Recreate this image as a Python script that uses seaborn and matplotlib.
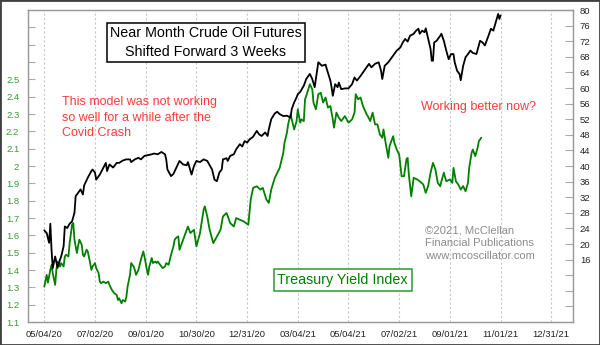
import matplotlib
matplotlib.use("Agg")
import matplotlib.pyplot as plt
from matplotlib.patches import Rectangle
import seaborn as sns
import pandas as pd

# ---- data: trading-day index since 05/04/20 ----
oil_day = [0, 2, 4, 5, 6, 7, 9, 11, 13, 14, 16, 17, 19, 21, 23, 25, 26, 28, 30, 32,
           33, 36, 39, 40, 42, 43, 46, 49, 51, 52, 54, 57, 60, 62, 65, 68, 71, 72, 75, 78,
           80, 83, 86, 89, 91, 94, 97, 100, 101, 102, 105, 107, 110, 112, 115, 118, 119, 122, 124, 126,
           129, 132, 135, 137, 139, 141, 143, 145, 147, 148, 151, 152, 154, 157, 159, 162, 164, 166, 168, 170,
           173, 176, 178, 180, 183, 185, 186, 188, 191, 193, 195, 198, 201, 204, 205, 207, 209, 210, 212, 215,
           217, 220, 222, 224, 227, 230, 233, 234, 237, 238, 239, 241, 243, 244, 246, 249, 252, 255, 257, 259,
           262, 264, 267, 269, 271, 274, 277, 279, 280, 282, 285, 288, 292, 295, 297, 299, 301, 303, 306, 308,
           310, 311, 313, 315, 316, 318, 320, 321, 322, 323, 325, 328, 329, 331, 333, 335, 337, 339, 340, 342,
           344, 345, 347, 349, 351, 353, 355, 358, 361, 363, 365, 368, 370, 372, 374, 376, 377, 378]
oil_price = [23.5, 22.8, 20.3, 25.2, 18.5, 13.8, 16.8, 13.9, 16.0, 16.8, 19.4, 24.5, 24.1, 25.2, 25.8, 28.0, 32.3, 33.1, 34.0, 32.7,
             35.0, 37.0, 38.7, 39.1, 38.3, 36.5, 37.8, 39.6, 40.8, 38.7, 40.4, 39.6, 40.8, 40.8, 41.4, 41.7, 41.7, 41.0, 41.7, 42.1,
             41.7, 42.6, 42.8, 43.0, 43.2, 43.0, 43.6, 43.0, 41.7, 39.1, 37.4, 38.0, 40.0, 41.3, 40.4, 40.2, 41.0, 37.8, 40.0, 41.3,
             41.0, 41.7, 41.3, 40.2, 39.1, 36.5, 36.1, 38.3, 39.1, 41.7, 42.0, 41.3, 42.6, 43.0, 44.3, 45.6, 45.0, 46.4, 46.0, 46.8,
             47.5, 49.0, 48.1, 47.7, 48.6, 47.7, 49.4, 52.0, 53.5, 53.9, 53.3, 52.8, 52.9, 52.4, 54.6, 56.3, 57.6, 58.4, 59.0, 60.6,
             62.3, 63.6, 62.3, 60.2, 66.6, 65.7, 66.0, 64.9, 61.9, 60.2, 58.0, 61.0, 60.2, 61.4, 59.7, 59.9, 59.9, 61.0, 62.7, 61.9,
             63.1, 64.0, 65.3, 66.2, 65.3, 66.2, 66.6, 64.4, 62.3, 65.7, 66.6, 67.9, 69.6, 70.4, 71.7, 72.6, 71.9, 73.4, 73.9, 74.7,
             75.2, 73.9, 74.7, 74.3, 75.3, 72.6, 70.0, 67.0, 67.0, 71.7, 72.1, 73.4, 73.9, 72.1, 69.6, 67.4, 68.7, 68.7, 66.6, 64.4,
             63.6, 62.0, 65.7, 67.9, 68.7, 69.6, 69.0, 68.7, 72.1, 71.7, 70.9, 73.4, 75.2, 74.7, 76.9, 79.0, 77.7, 78.6]

tyx_day = [0, 2, 3, 5, 6, 7, 9, 10, 11, 13, 14, 16, 17, 18, 20, 21, 23, 24, 25, 27,
           28, 29, 31, 32, 33, 35, 36, 38, 39, 40, 42, 43, 45, 46, 47, 49, 51, 53, 54, 56,
           58, 60, 61, 62, 64, 65, 67, 68, 69, 71, 72, 74, 75, 76, 78, 80, 82, 83, 85, 86,
           87, 89, 90, 92, 93, 94, 96, 98, 100, 101, 103, 104, 105, 107, 108, 109, 111, 112, 115, 119,
           121, 124, 126, 129, 132, 133, 135, 137, 140, 143, 146, 148, 151, 154, 157, 159, 162, 165, 169, 171,
           173, 176, 179, 181, 184, 186, 188, 191, 193, 195, 198, 199, 201, 202, 204, 205, 207, 209, 210, 212,
           213, 215, 216, 217, 220, 222, 223, 225, 227, 229, 231, 233, 235, 237, 239, 240, 242, 244, 246, 249,
           252, 255, 257, 258, 260, 262, 264, 267, 268, 270, 272, 274, 276, 278, 280, 281, 283, 285, 286, 289,
           290, 292, 294, 296, 298, 300, 301, 302, 304, 306, 309, 311, 314, 316, 318, 320, 322, 324, 326, 328,
           329, 331, 333, 336, 338, 339, 341, 343, 345, 347, 349, 351, 352, 354, 355, 357, 359, 360, 362]
tyx_value = [1.304, 1.372, 1.327, 1.401, 1.430, 1.382, 1.314, 1.401, 1.449, 1.420, 1.440, 1.420, 1.478, 1.488, 1.478, 1.555, 1.661, 1.671, 1.575, 1.498,
             1.536, 1.575, 1.546, 1.488, 1.478, 1.517, 1.507, 1.440, 1.401, 1.420, 1.440, 1.411, 1.382, 1.333, 1.324, 1.333, 1.324, 1.333, 1.314, 1.285,
             1.266, 1.256, 1.227, 1.237, 1.208, 1.227, 1.218, 1.246, 1.304, 1.372, 1.440, 1.420, 1.401, 1.372, 1.401, 1.459, 1.507, 1.478, 1.401, 1.372,
             1.420, 1.469, 1.440, 1.449, 1.440, 1.449, 1.430, 1.411, 1.420, 1.440, 1.430, 1.459, 1.488, 1.536, 1.575, 1.584, 1.594, 1.517, 1.575, 1.651,
             1.613, 1.632, 1.536, 1.613, 1.748, 1.767, 1.709, 1.632, 1.555, 1.594, 1.632, 1.709, 1.729, 1.671, 1.651, 1.700, 1.690, 1.681, 1.661, 1.806,
             1.874, 1.883, 1.864, 1.874, 1.806, 1.787, 1.864, 1.932, 1.961, 1.989, 2.076, 2.134, 2.192, 2.240, 2.298, 2.269, 2.211, 2.259, 2.327, 2.250,
             2.269, 2.259, 2.385, 2.404, 2.472, 2.443, 2.366, 2.327, 2.414, 2.423, 2.366, 2.395, 2.337, 2.346, 2.269, 2.221, 2.308, 2.279, 2.259, 2.288,
             2.250, 2.269, 2.308, 2.414, 2.385, 2.395, 2.346, 2.298, 2.288, 2.259, 2.308, 2.240, 2.240, 2.182, 2.163, 2.211, 2.124, 2.047, 2.115, 2.172,
             2.134, 2.095, 2.066, 1.941, 1.941, 2.038, 2.047, 1.951, 1.825, 1.932, 1.922, 1.912, 1.893, 1.845, 1.884, 1.961, 2.018, 1.980, 1.903, 1.883,
             1.912, 1.961, 1.912, 1.922, 1.903, 1.989, 1.912, 1.893, 1.864, 1.884, 1.854, 1.903, 1.989, 2.076, 2.095, 2.057, 2.105, 2.143, 2.163]

date_labels = ["05/04/20", "07/02/20", "09/01/20", "10/30/20", "12/31/20", "03/04/21",
               "05/04/21", "07/02/21", "09/01/21", "11/01/21", "12/31/21"]
date_ticks = [0, 42, 84, 126, 168, 210, 252, 294, 336, 378, 420]

left_ticks = [1.1, 1.2, 1.3, 1.4, 1.5, 1.6, 1.7, 1.8, 1.9, 2.0, 2.1, 2.2, 2.3, 2.4, 2.5, 2.6, 2.7, 2.8]
left_labels = ["1.1", "1.2", "1.3", "1.4", "1.5", "1.6", "1.7", "1.8", "1.9", "2", "2.1", "2.2",
               "2.3", "2.4", "2.5", "", "", ""]
right_ticks = [4, 8, 12, 16, 20, 24, 28, 32, 36, 40, 44, 48, 52, 56, 60, 64, 68, 72, 76, 80]
right_labels = ["", "", "", "16", "20", "24", "28", "32", "36", "40", "44", "48", "52", "56",
                "60", "64", "68", "72", "76", "80"]

oil_df = pd.DataFrame({"day": oil_day, "price": oil_price})
tyx_df = pd.DataFrame({"day": tyx_day, "value": tyx_value})

sns.set_theme(style="white")
plt.rcParams["font.family"] = ["Liberation Sans", "DejaVu Sans"]

GREEN = "#008000"
GREEN_TXT = "#3a9a3a"
RED = "#ff3b3b"
GRAY = "#8c8c8c"

fig = plt.figure(figsize=(6.0, 3.45), dpi=100)
fig.patch.set_facecolor("white")
ax = fig.add_axes([28 / 600, 23 / 345, 545 / 600, 312 / 345])
ax2 = ax.twinx()

sns.lineplot(data=tyx_df, x="day", y="value", ax=ax, color=GREEN, lw=1.3, estimator=None)
sns.lineplot(data=oil_df, x="day", y="price", ax=ax2, color="black", lw=1.3, estimator=None)

ax.set_xlim(-13.5, 438)
ax.set_ylim(1.1, 2.9)
ax2.set_ylim(0, 80)

ax.set_xticks(date_ticks)
ax.set_xticklabels(date_labels)
ax.set_yticks(left_ticks)
ax.set_yticklabels(left_labels)
ax2.set_yticks(right_ticks)
ax2.set_yticklabels(right_labels)

ax.set_xlabel("")
ax.set_ylabel("")
ax2.set_ylabel("")

ax.grid(False)
ax2.grid(False)
for t in date_ticks:
    ax.axvline(t, color="#c8c8c8", lw=0.8, ls=(0, (2, 2)), zorder=0)

ax.tick_params(axis="x", length=0, pad=5.5, labelsize=6.8, labelcolor="#222222")
ax.tick_params(axis="y", direction="in", length=5, width=0.8, color="#aaaaaa",
               pad=6.3, labelsize=6.8, labelcolor=GREEN_TXT)
ax2.tick_params(axis="y", direction="in", length=6, width=0.8, color="#aaaaaa",
                pad=5, labelsize=6.8, labelcolor="#222222")

for a in (ax, ax2):
    for s in a.spines.values():
        s.set_color("#9a9a9a")
        s.set_linewidth(0.9)

# annotations
ax.text(0.3266, 0.896, "Near Month Crude Oil Futures\nShifted Forward 3 Weeks",
        transform=ax.transAxes, ha="center", va="center", fontsize=10.3, color="black",
        linespacing=1.38, zorder=5,
        bbox=dict(boxstyle="square,pad=0.22", fc="white", ec="black", lw=1.1))
ax.text(0.0618, 0.655, "This model was not working\nso well for a while after the\nCovid Crash",
        transform=ax.transAxes, ha="left", va="center", fontsize=9, color=RED,
        linespacing=1.42, zorder=5)
ax.text(0.8275, 0.690, "Working better now?", transform=ax.transAxes, ha="center",
        va="center", fontsize=9, color=RED, zorder=5)
ax.text(0.7284, 0.2522, "\u00a92021, McClellan\nFinancial Publications\nwww.mcoscillator.com",
        transform=ax.transAxes, ha="left", va="center", fontsize=8.1, color=GRAY,
        linespacing=1.38, zorder=5)
ax.text(0.5774, 0.1346, "Treasury Yield Index", transform=ax.transAxes, ha="center",
        va="center", fontsize=10.3, color=GREEN, zorder=5,
        bbox=dict(boxstyle="square,pad=0.25", fc="white", ec="#2e9a2e", lw=1.1))

fig.add_artist(Rectangle((0, 0), 1, 1, transform=fig.transFigure, fill=False,
                         ec="#404040", lw=2.0))

fig.savefig("out.png", dpi=100)
